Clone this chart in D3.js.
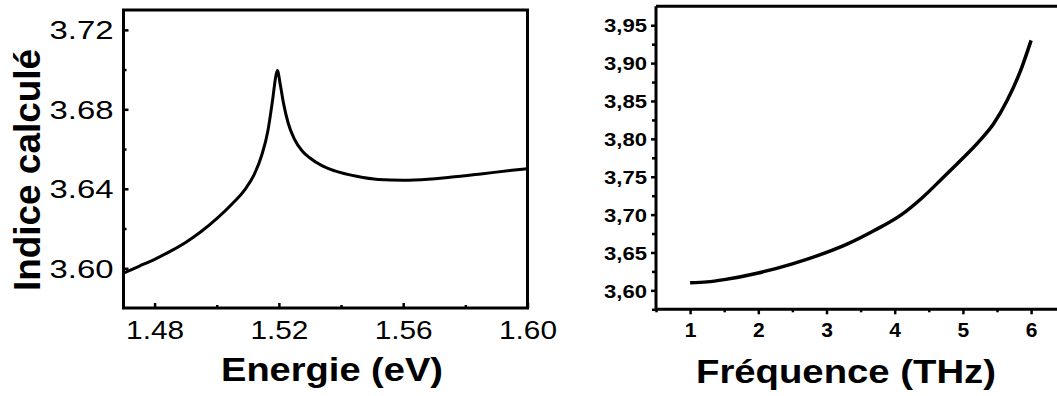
<!DOCTYPE html>
<html><head><meta charset="utf-8">
<script src="https://cdn.jsdelivr.net/npm/d3@7/dist/d3.min.js"></script>
<style>
html,body{margin:0;padding:0;background:#fff;}
svg{display:block;}
text{font-family:"Liberation Sans",Arial,sans-serif;fill:#000;}
</style></head>
<body>
<svg id="chart" width="1057" height="396"></svg>
<script>
// ---- Left panel data: calculated index vs energy ----
const energy = [1.47, 1.475, 1.48, 1.485, 1.49, 1.495, 1.50, 1.505, 1.509, 1.512, 1.5145, 1.5165, 1.518, 1.519, 1.5195, 1.5205, 1.5215, 1.523, 1.525, 1.5275, 1.530, 1.534, 1.538, 1.545, 1.552, 1.56, 1.568, 1.575, 1.585, 1.595, 1.60];
const indexE = [3.5975, 3.601, 3.6045, 3.6085, 3.613, 3.6185, 3.625, 3.6325, 3.6395, 3.647, 3.657, 3.6695, 3.685, 3.6965, 3.6995, 3.692, 3.683, 3.673, 3.665, 3.659, 3.6555, 3.6515, 3.649, 3.6463, 3.6447, 3.6443, 3.6448, 3.6458, 3.6475, 3.6493, 3.6501];
const leftXTicks = [1.48, 1.52, 1.56, 1.60];
const leftXMinor = [1.50, 1.54, 1.58];
const leftYTicks = [3.60, 3.64, 3.68, 3.72];
const leftYMinor = [3.62, 3.66, 3.70];

// ---- Right panel data: calculated index vs frequency ----
const freq = [1.0, 1.25, 1.5, 2.0, 2.5, 3.0, 3.3, 3.7, 4.1, 4.4, 4.7, 4.95, 5.25, 5.45, 5.65, 5.85, 6.0];
const indexF = [3.610, 3.6112, 3.6142, 3.623, 3.635, 3.650, 3.661, 3.679, 3.700, 3.722, 3.748, 3.770, 3.798, 3.820, 3.851, 3.891, 3.930];
const rightXTicks = [1, 2, 3, 4, 5, 6];
const rightXMinor = [0.5, 1.5, 2.5, 3.5, 4.5, 5.5, 6.5];
const rightYTicks = [3.60, 3.65, 3.70, 3.75, 3.80, 3.85, 3.90, 3.95];
const rightYMinor = [3.575, 3.625, 3.675, 3.725, 3.775, 3.825, 3.875, 3.925];

const svg = d3.select("#chart");
const commaFmt = d3.formatLocale({decimal: ",", thousands: ".", grouping: [3], currency: ["", ""]}).format(".2f");
const dotFmt = d3.format(".2f");

function fit(sel, len) {
  sel.attr("textLength", len).attr("lengthAdjust", "spacingAndGlyphs");
}

// ================= LEFT PANEL =================
{
  const L = 123.5, R = 527.5, T = 10, B = 308;
  const x = d3.scaleLinear().domain([1.47, 1.60]).range([L, R]);
  const y = d3.scaleLinear().domain([3.58, 3.73]).range([B, T]);
  const g = svg.append("g");

  const ya = g.append("g").attr("transform", `translate(${L},0)`)
    .call(d3.axisLeft(y).tickValues(leftYTicks).tickSize(-5).tickPadding(10).tickFormat(dotFmt));
  ya.selectAll("text").style("font-size", "26px").attr("dy", "0.35em");
  fit(ya.selectAll("text"), 64);
  const yb = g.append("g").attr("transform", `translate(${L},0)`)
    .call(d3.axisLeft(y).tickValues(leftYMinor).tickSize(-3).tickFormat(""));

  const xa = g.append("g").attr("transform", `translate(0,${B})`)
    .call(d3.axisBottom(x).tickValues(leftXTicks).tickSize(-5).tickPadding(13).tickFormat(dotFmt));
  xa.selectAll("text").style("font-size", "25px").attr("dy", "0.71em");
  fit(xa.selectAll("text"), 58);
  const xb = g.append("g").attr("transform", `translate(0,${B})`)
    .call(d3.axisBottom(x).tickValues(leftXMinor).tickSize(-3).tickFormat(""));

  [ya, yb, xa, xb].forEach(a => {
    a.select(".domain").remove();
    a.selectAll("line").attr("stroke", "#000").attr("stroke-width", 2.5);
  });

  g.append("rect").attr("x", L).attr("y", T).attr("width", R - L).attr("height", B - T)
    .attr("fill", "none").attr("stroke", "#000").attr("stroke-width", 3);

  const line = d3.line().x((d, i) => x(energy[i])).y(d => y(d)).curve(d3.curveMonotoneX);
  g.append("path").attr("d", line(indexE)).attr("fill", "none")
    .attr("stroke", "#000").attr("stroke-width", 3).attr("stroke-linejoin", "round");

  const xt = g.append("text").attr("x", 332).attr("y", 381).attr("text-anchor", "middle")
    .style("font-size", "33px").style("font-weight", "bold").text("Energie (eV)");
  fit(xt, 222);
  const yt = g.append("text").attr("transform", "translate(40,170) rotate(-90)").attr("text-anchor", "middle")
    .style("font-size", "37px").style("font-weight", "bold").text("Indice calculé");
  fit(yt, 242);
}

// ================= RIGHT PANEL =================
{
  const L = 656, T = 6.3, B = 309.3;
  const x = d3.scaleLinear().domain([0.5, 6.5]).range([L, L + 6 * 68.2]);
  const y = d3.scaleLinear().domain([3.575, 3.975]).range([B, T]);
  const g = svg.append("g");

  const ya = g.append("g").attr("transform", `translate(${L},0)`)
    .call(d3.axisLeft(y).tickValues(rightYTicks).tickSize(5).tickPadding(4).tickFormat(commaFmt));
  ya.selectAll("text").style("font-size", "19px").style("font-weight", "bold").attr("dy", "0.35em");
  fit(ya.selectAll("text"), 43);
  const yb = g.append("g").attr("transform", `translate(${L},0)`)
    .call(d3.axisLeft(y).tickValues(rightYMinor).tickSize(4).tickFormat(""));

  const xa = g.append("g").attr("transform", `translate(0,${B})`)
    .call(d3.axisBottom(x).tickValues(rightXTicks).tickSize(5).tickPadding(8).tickFormat(d3.format("d")));
  xa.selectAll("text").style("font-size", "21px").style("font-weight", "bold");
  const xb = g.append("g").attr("transform", `translate(0,${B})`)
    .call(d3.axisBottom(x).tickValues(rightXMinor).tickSize(3).tickFormat(""));

  [ya, yb, xa, xb].forEach(a => {
    a.select(".domain").remove();
    a.selectAll("line").attr("stroke", "#000").attr("stroke-width", 2.5);
  });

  g.append("path").attr("d", `M${L},${T}H1057M${L},${T}V${B}M${L},${B}H1057`)
    .attr("fill", "none").attr("stroke", "#000").attr("stroke-width", 3);

  const line = d3.line().x((d, i) => x(freq[i])).y(d => y(d)).curve(d3.curveMonotoneX);
  g.append("path").attr("d", line(indexF)).attr("fill", "none")
    .attr("stroke", "#000").attr("stroke-width", 3.5).attr("stroke-linejoin", "round");

  const xt = g.append("text").attr("x", 846).attr("y", 383).attr("text-anchor", "middle")
    .style("font-size", "33px").style("font-weight", "bold").text("Fréquence (THz)");
  fit(xt, 300);
}
</script>
</body></html>
